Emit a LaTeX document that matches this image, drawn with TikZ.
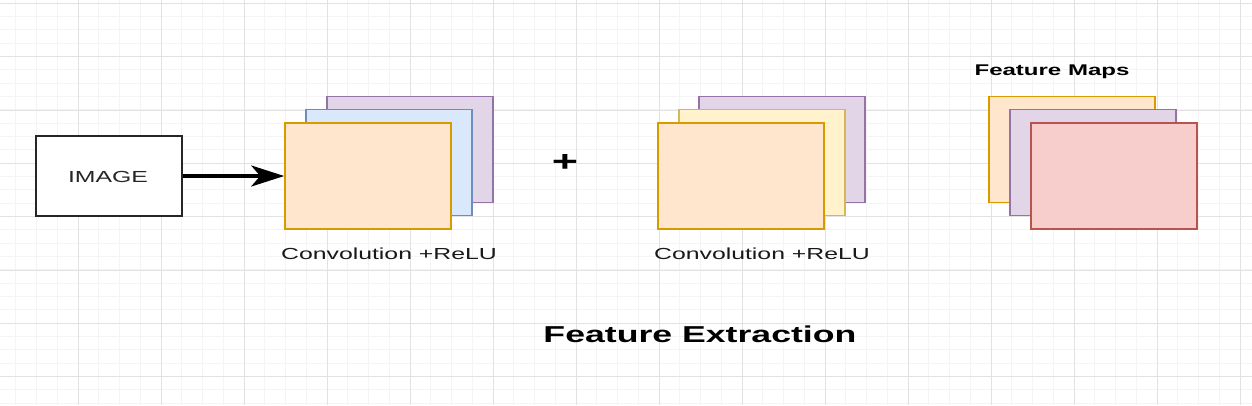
\documentclass[tikz,border=0pt]{standalone}
\usepackage{fontspec}
\setmainfont[FakeStretch=1.55]{Liberation Sans}
\usetikzlibrary{arrows.meta}
\definecolor{orfill}{HTML}{FFE6CC}\definecolor{ordraw}{HTML}{D79B00}
\definecolor{pufill}{HTML}{E1D5E7}\definecolor{pudraw}{HTML}{9673A6}
\definecolor{blfill}{HTML}{DAE8FC}\definecolor{bldraw}{HTML}{6C8EBF}
\definecolor{yefill}{HTML}{FFF2CC}\definecolor{yedraw}{HTML}{D6B656}
\definecolor{refill}{HTML}{F8CECC}\definecolor{redraw}{HTML}{B85450}
\definecolor{gridminor}{HTML}{F4F4F4}\definecolor{gridmajor}{HTML}{E2E2E2}
\tikzset{
  fmap/.style={rectangle, minimum width=166pt, minimum height=106pt, line width=1.6pt, inner sep=0pt},
  orbox/.style={fmap, fill=orfill, draw=ordraw},
  pubox/.style={fmap, fill=pufill, draw=pudraw},
  blbox/.style={fmap, fill=blfill, draw=bldraw},
  yebox/.style={fmap, fill=yefill, draw=yedraw},
  rebox/.style={fmap, fill=refill, draw=redraw},
  lbl/.style={font=\fontsize{16}{18}\selectfont, text=black!90, inner sep=0pt},
}
\begin{document}
\begin{tikzpicture}[x=1pt,y=-1pt]
\useasboundingbox (0,0) rectangle (1252,405);
\fill[white] (0,0) rectangle (1252,405);
% grid
\foreach \i in {-3,...,56} {\draw[gridminor, line width=1pt] ({78+20.75*\i},0) -- ({78+20.75*\i},405);}
\foreach \j in {0,...,30} {\draw[gridminor, line width=1pt] (0,{3.33+13.333*\j}) -- (1252,{3.33+13.333*\j});}
\foreach \i in {0,...,14} {\draw[gridmajor, line width=1pt] ({78+83*\i},0) -- ({78+83*\i},405);}
\foreach \j in {0,...,7} {\draw[gridmajor, line width=1pt] (0,{3.33+53.333*\j}) -- (1252,{3.33+53.333*\j});}
% image
\node[rectangle, draw=black!85, fill=white, line width=1.6pt, minimum width=146pt, minimum height=80pt, inner sep=0pt] (img) at (109,176) {};
\node[font=\fontsize{16}{18}\selectfont, text=black!85, inner sep=0pt] (imgtxt) at (108,177) {IMAGE};
% stack 1
\node[pubox] (s1c) at (410,149.5) {};
\node[blbox] (s1b) at (389,162.5) {};
\node[orbox] (s1a) at (368,176) {};
\node[lbl] (l1) at (389,254) {Convolution +ReLU};
% plus
\node[font=\bfseries\fontsize{29}{30}\selectfont, inner sep=0pt] (plus) at (565,163) {+};
% stack 2
\node[pubox] (s2c) at (782,149.5) {};
\node[yebox] (s2b) at (762,162.5) {};
\node[orbox] (s2a) at (741,176) {};
\node[lbl] (l2) at (762,254) {Convolution +ReLU};
% feature maps
\node[orbox] (f3) at (1072,149.5) {};
\node[pubox] (f2) at (1093,162.5) {};
\node[rebox] (f1) at (1114,176) {};
\node[font=\bfseries\fontsize{15.5}{18}\selectfont, inner sep=0pt] (fm) at (1052,72) {Feature Maps};
% title
\node[font=\bfseries\fontsize{23}{26}\selectfont, inner sep=0pt] (title) at (700,334.5) {Feature Extraction};
% arrow
\draw[line width=3.6pt, -{Stealth[length=33pt,width=21pt,inset=9pt]}] (img.east) -- (s1a.west);
\end{tikzpicture}
\end{document}
